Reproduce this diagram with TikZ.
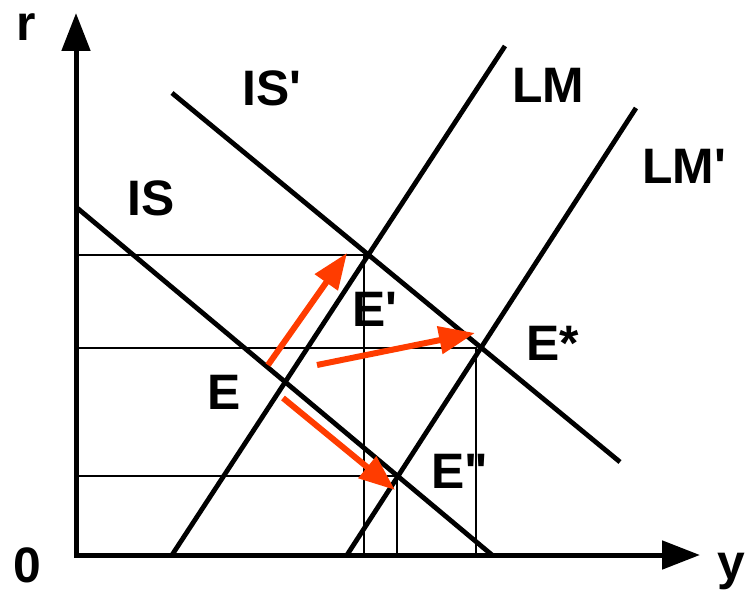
\documentclass[tikz,border=0pt]{standalone}
\usepackage{fontspec}
\setmainfont{Liberation Sans}
\usetikzlibrary{arrows.meta}
\definecolor{shiftred}{RGB}{255,60,0}

\begin{document}
\begin{tikzpicture}[
    x=1bp, y=-1bp,
    axis/.style={line width=5bp, -{Triangle[length=38bp,width=28bp]}},
    curve/.style={line width=4.8bp},
    guide/.style={line width=2bp},
    shiftarrow/.style={line width=6bp, shiftred, -{Triangle[length=36bp,width=27bp]}},
    lbl/.style={font=\fontsize{50}{60}\selectfont\bfseries, inner sep=0pt}
]
\useasboundingbox (0,0) rectangle (745,593);

% curve end points
\coordinate (o) at (76,555);
\coordinate (is1) at (76,207);   \coordinate (is2) at (492,555);
\coordinate (isp1) at (172,93);  \coordinate (isp2) at (620,462);
\coordinate (lm1) at (172,555);  \coordinate (lm2) at (505,46);
\coordinate (lmp1) at (347,555); \coordinate (lmp2) at (636,108);

% equilibria
\coordinate (E) at (intersection of is1--is2 and lm1--lm2);
\coordinate (Ep) at (intersection of isp1--isp2 and lm1--lm2);
\coordinate (Es) at (intersection of isp1--isp2 and lmp1--lmp2);
\coordinate (Epp) at (intersection of is1--is2 and lmp1--lmp2);

% guide lines to the axes
\coordinate (gEp) at ([xshift=-4bp]Ep);
\coordinate (gEs) at ([xshift=-5bp]Es);
\coordinate (gEpp) at ([xshift=-1bp]Epp);
\draw[guide] (o |- gEp) -- (gEp) -- (gEp |- o);
\draw[guide] (o |- gEs) -- (gEs) -- (gEs |- o);
\draw[guide] (o |- gEpp) -- (gEpp) -- (gEpp |- o);

% axes
\draw[axis] (74,555) -- (700,555);
\draw[axis] (76,557) -- (76,13);

% IS and LM curves
\draw[curve] (is1) -- (is2);
\draw[curve] (isp1) -- (isp2);
\draw[curve] (lm1) -- (lm2);
\draw[curve] (lmp1) -- (lmp2);

% shifts
\coordinate (a1) at (268,365); \coordinate (b1) at (347,253);
\coordinate (a2) at (317,365); \coordinate (b2) at (475,333);
\coordinate (a3) at (283,398); \coordinate (b3) at (395,490);
\draw[shiftarrow] (a1) -- (b1);
\draw[shiftarrow] (a2) -- (b2);
\draw[shiftarrow] (a3) -- (b3);

% labels
\node[lbl] (rlab) at (26,27) {r};
\node[lbl] (ylab) at (731,572) {y};
\node[lbl] (zlab) at (27,565) {0};
\node[lbl] (islab) at (151,198) {IS};
\node[lbl] (isplab) at (272,88) {IS\textquotesingle};
\node[lbl] (lmlab) at (548,85) {LM};
\node[lbl] (lmplab) at (684,166) {LM\textquotesingle};
\node[lbl] (elab) at (224,392) {E};
\node[lbl] (eplab) at (375,309) {E\textquotesingle};
\node[lbl] (eslab) at (553,343) {E*};
\node[lbl] (epplab) at (460,471) {E\textquotedbl};
\end{tikzpicture}
\end{document}
